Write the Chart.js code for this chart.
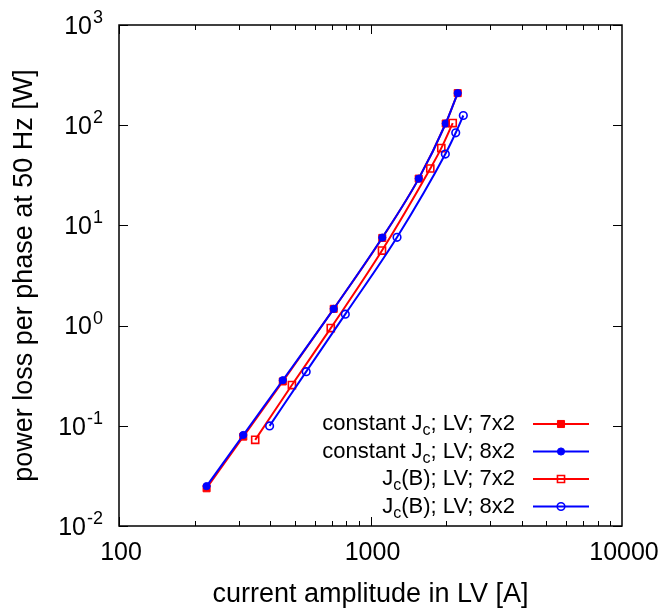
<!DOCTYPE html>
<html><head><meta charset="utf-8">
<script src="https://cdn.jsdelivr.net/npm/chart.js@4/dist/chart.umd.min.js"></script>
<style>html,body{margin:0;padding:0;background:#fff}#c{display:block}</style>
</head><body>
<canvas id="c" width="664" height="608"></canvas>
<script>
// ---- data ----
const xConst = [223, 312, 448, 714, 1114, 1555, 1991, 2222];
const yConst7 = [0.0238, 0.078, 0.277, 1.47, 7.5, 29.3, 104, 209];
const yConst8 = [0.025, 0.081, 0.285, 1.47, 7.56, 29.3, 104, 209];
const xJcB7 = [348, 487, 695, 1111, 1729, 1912, 2123];
const yJcB7 = [0.0724, 0.255, 0.944, 5.61, 37.0, 59.1, 105];
const xJcB8 = [397, 555, 794, 1275, 1984, 2182, 2339];
const yJcB8 = [0.0998, 0.347, 1.30, 7.61, 51.5, 84, 125];

const xTicks = [100, 1000, 10000];
const xTickLabels = ['100', '1000', '10000'];
const yTicks = [0.01, 0.1, 1, 10, 100, 1000];
const yTickExp = ['-2', '-1', '0', '1', '2', '3'];
const legendText = [
  ['constant J', 'c', '; LV; 7x2'],
  ['constant J', 'c', '; LV; 8x2'],
  ['J', 'c', '(B); LV; 7x2'],
  ['J', 'c', '(B); LV; 8x2']
];
const xTitle = 'current amplitude in LV [A]';
const yTitle = 'power loss per phase at 50 Hz [W]';

const RED = '#ff0000', BLUE = '#0000ff';
const FONT = '"Liberation Sans", Arial, Helvetica, sans-serif';

function pts(xs, ys) { return xs.map((x, i) => ({ x: x, y: ys[i] })); }

const styles = [
  { color: RED, style: 'rect', r: 5, fill: true },
  { color: BLUE, style: 'circle', r: 3.6, fill: true },
  { color: RED, style: 'rect', r: 5, fill: false },
  { color: BLUE, style: 'circle', r: 3.8, fill: false }
];

function mkDs(label, data, s, order) {
  return {
    label: label, data: data, showLine: true,
    borderColor: s.color, borderWidth: 2,
    pointStyle: s.style, pointRadius: s.r, pointHoverRadius: s.r,
    pointBorderColor: s.color, pointBorderWidth: s.fill ? 1 : 1.6,
    pointBackgroundColor: s.fill ? s.color : 'rgba(0,0,0,0)',
    cubicInterpolationMode: 'monotone', order: order, fill: false
  };
}

function drawMarker(ctx, x, y, s) {
  ctx.save();
  ctx.strokeStyle = s.color; ctx.fillStyle = s.color;
  ctx.lineWidth = s.fill ? 1 : 1.6;
  ctx.beginPath();
  if (s.style === 'rect') {
    const h = s.r * Math.SQRT1_2;
    ctx.rect(x - h, y - h, 2 * h, 2 * h);
  } else {
    ctx.arc(x, y, s.r, 0, Math.PI * 2);
  }
  if (s.fill) ctx.fill();
  ctx.stroke();
  ctx.restore();
}

const decor = {
  id: 'decor',
  afterDraw(chart) {
    const ctx = chart.ctx, a = chart.chartArea;
    const xs = chart.scales.x, ys = chart.scales.y;
    ctx.save();
    // frame
    ctx.strokeStyle = '#000'; ctx.lineWidth = 1.5;
    ctx.strokeRect(a.left, a.top, a.right - a.left, a.bottom - a.top);
    ctx.lineWidth = 1;
    ctx.beginPath();
    // x ticks (major + minor), mirrored
    for (let e = 2; e < 4; e++) {
      for (let m = 1; m <= 9; m++) {
        const v = m * Math.pow(10, e);
        const px = Math.round(xs.getPixelForValue(v)) + 0.5;
        const len = m === 1 ? 9 : 5;
        ctx.moveTo(px, a.bottom); ctx.lineTo(px, a.bottom - len);
        ctx.moveTo(px, a.top); ctx.lineTo(px, a.top + len);
      }
    }
    // y ticks, mirrored
    yTicks.forEach(v => {
      const py = Math.round(ys.getPixelForValue(v)) + 0.5;
      ctx.moveTo(a.left, py); ctx.lineTo(a.left + 9, py);
      ctx.moveTo(a.right, py); ctx.lineTo(a.right - 9, py);
    });
    ctx.stroke();

    ctx.fillStyle = '#000';
    // x tick labels
    ctx.font = '25px ' + FONT;
    ctx.textAlign = 'center'; ctx.textBaseline = 'middle';
    xTicks.forEach((v, i) => {
      ctx.fillText(xTickLabels[i], xs.getPixelForValue(v) + 2, 553);
    });
    // y tick labels 10^n
    yTicks.forEach((v, i) => {
      const py = ys.getPixelForValue(v) + 2;
      ctx.font = '25px ' + FONT;
      const wb = ctx.measureText('10').width;
      ctx.font = '18px ' + FONT;
      const we = ctx.measureText(yTickExp[i]).width;
      const x0 = 103 - wb - we - 1;
      ctx.textAlign = 'left'; ctx.textBaseline = 'middle';
      ctx.font = '25px ' + FONT;
      ctx.fillText('10', x0, py);
      ctx.font = '18px ' + FONT;
      ctx.fillText(yTickExp[i], x0 + wb + 1, py - 9);
    });
    // titles
    ctx.font = '27px ' + FONT;
    ctx.textAlign = 'center'; ctx.textBaseline = 'middle';
    ctx.fillText(xTitle, (a.left + a.right) / 2, 595);
    ctx.save();
    ctx.translate(25, (a.top + a.bottom) / 2);
    ctx.rotate(-Math.PI / 2);
    ctx.fillText(yTitle, 0, 0);
    ctx.restore();

    // legend
    const rows = [424, 451.5, 479, 506.5];
    legendText.forEach((t, i) => {
      const y = rows[i];
      ctx.font = '22px ' + FONT;
      const w1 = ctx.measureText(t[0]).width;
      const w3 = ctx.measureText(t[2]).width;
      ctx.font = '16px ' + FONT;
      const w2 = ctx.measureText(t[1]).width;
      let x = 515 - (w1 + w2 + w3);
      ctx.textAlign = 'left'; ctx.textBaseline = 'middle';
      ctx.font = '22px ' + FONT;
      ctx.fillText(t[0], x, y);
      ctx.font = '16px ' + FONT;
      ctx.fillText(t[1], x + w1, y + 7);
      ctx.font = '22px ' + FONT;
      ctx.fillText(t[2], x + w1 + w2, y);
      const s = styles[i];
      ctx.strokeStyle = s.color; ctx.lineWidth = 2;
      ctx.beginPath(); ctx.moveTo(533, y); ctx.lineTo(589, y); ctx.stroke();
      drawMarker(ctx, 561, y, s);
    });
    ctx.restore();
  }
};

new Chart(document.getElementById('c'), {
  type: 'scatter',
  data: {
    datasets: [
      mkDs('constant Jc; LV; 7x2', pts(xConst, yConst7), styles[0], 4),
      mkDs('constant Jc; LV; 8x2', pts(xConst, yConst8), styles[1], 3),
      mkDs('Jc(B); LV; 7x2', pts(xJcB7, yJcB7), styles[2], 2),
      mkDs('Jc(B); LV; 8x2', pts(xJcB8, yJcB8), styles[3], 1)
    ]
  },
  options: {
    responsive: false, animation: false, devicePixelRatio: 1,
    layout: { padding: { left: 119, right: 42, top: 25, bottom: 82 } },
    scales: {
      x: { type: 'logarithmic', min: 100, max: 10000, display: false },
      y: { type: 'logarithmic', min: 0.01, max: 1000, display: false }
    },
    plugins: { legend: { display: false }, tooltip: { enabled: false } }
  },
  plugins: [decor]
});
</script>
</body></html>
